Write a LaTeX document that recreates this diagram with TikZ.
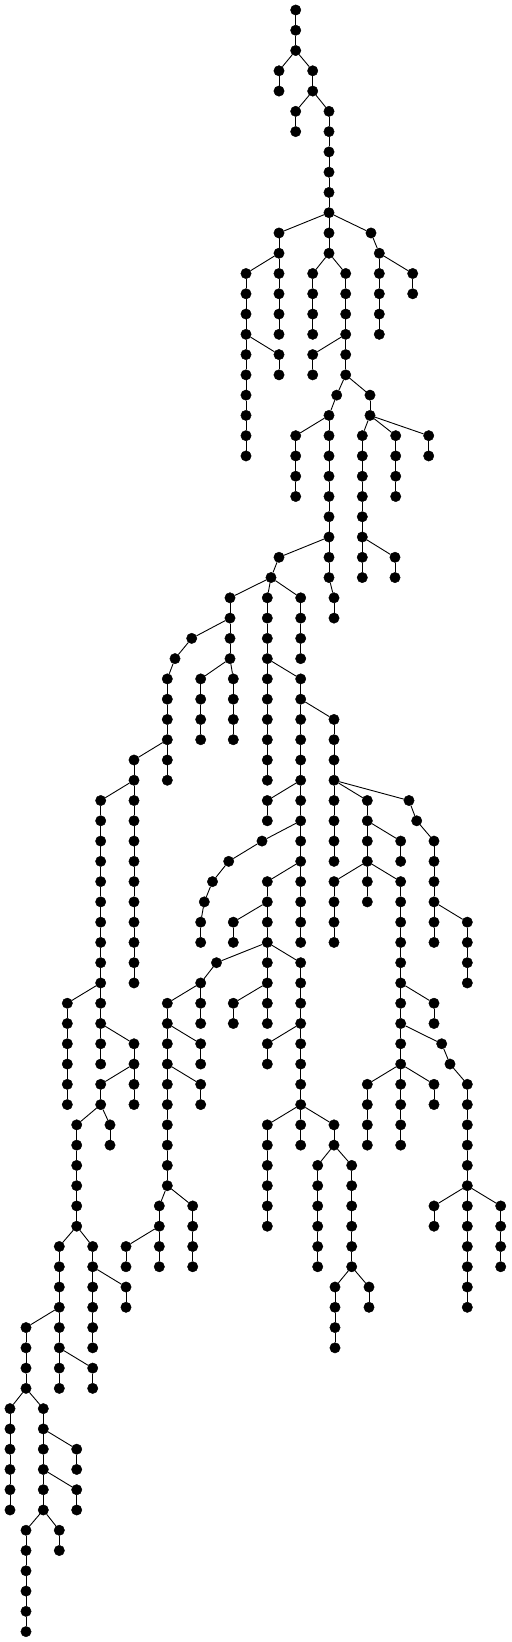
\documentclass[tikz,border=0pt]{standalone}
\usepackage{tikz}
\begin{document}
\begin{tikzpicture}[x=1pt, y=-20.27pt,
  vtx/.style={draw, circle, fill=black, inner sep=0pt, minimum size=10.4pt},
  link/.style={line width=0.9pt}]
\useasboundingbox (0,-0.4933) rectangle (511,80.513);
% vertical runs: name / x / first level / last level
\foreach \n/\x/\a/\b in {r/295.7/0/2, a/279/3/4, b/312.7/3/4, c/295.7/5/6, d/329/5/10,
  e/279/11/12, f/329/11/12, g/371/11/11, h/379.3/12/16, i/412.7/13/14, j/246/13/22,
  k/279/13/16, l/279/17/18, m/312.7/13/16, n/345.7/13/18, o/312.7/17/18, p/336.7/19/19,
  q/370/19/20, s/329/20/28, t/295.7/21/24, u/334/29/30, v/362.3/21/28, w/395.7/21/24,
  x/428.7/21/22, y/395/27/28, za/279/27/27, zb/271/28/28,
  A/230/29/32, B/267.3/29/38, C/300.7/29/32, D/300.7/33/46, E/334/35/42, F/367.3/39/44,
  G/409/39/39, H/416.7/40/40, I/434/41/46, J/467.3/45/48, K/400.7/41/42, L/334/43/46,
  M/400.7/43/56, N/434/49/50, O/441.7/51/51, P/450/52/52, Q/467.3/53/64, R/434/59/60,
  S/500.7/59/62, T/367.3/53/56, U/434/53/54, V/267.3/39/40, Wa/262/41/41, Wb/228.7/42/42,
  Wc/212.5/43/43, Wd/204.3/44/44, We/200.7/45/46, X/267.3/43/50, Y/233.3/45/46,
  Z/216.5/47/47, AA/200.7/48/50, AB/167.3/49/58, AC/200.7/51/52, AD/200.7/53/54,
  AE/159.3/59/62, AF/126/61/62, AG/192.7/59/62, AH/300.7/47/56, AI/233.3/49/50,
  AJ/267.3/51/52, AK/267.3/55/60, AL/334/55/56, AM/317.7/57/62, AN/351.7/57/62,
  AO/335/63/66, AP/369/63/64,
  BA/200.7/33/36, BB/233.3/33/36, BC/191.7/31/31, BD/175/32/32, BE/167.3/33/38,
  BF/134/37/48, BG/100.7/39/52, BH/67.3/49/54, BI/134/51/54, BJ/100.7/53/54,
  BK/110/55/56, BL/76.7/55/60, BM/59.3/61/68, BN/92.7/61/66, BO/126/63/64,
  BP/92.7/67/68, BQ/26/65/68, BR/10/69/74, BS/43.3/69/74, BT/76.7/71/72,
  BU/76.7/73/74, BV/26/75/80, BW/59.3/75/76}{
  \foreach \l in {\a,...,\b}{
    \node[vtx] (\n-\l) at (\x,\l) {};
    \ifnum\l>\a
      \pgfmathtruncatemacro\k{\l-1}
      \draw[link] (\n-\k) -- (\n-\l);
    \fi
  }
}
% branchings
\foreach \p/\c in {r-2/a-3, r-2/b-3, b-4/c-5, b-4/d-5, d-10/e-11, d-10/f-11, d-10/g-11,
  g-11/h-12, h-12/i-13, e-12/j-13, e-12/k-13, j-16/l-17, f-12/m-13, f-12/n-13,
  n-16/o-17, n-18/p-19, n-18/q-19, p-19/s-20, s-20/t-21, s-28/u-29, q-20/v-21,
  q-20/w-21, q-20/x-21, v-26/y-27, s-26/za-27, za-27/zb-28, zb-28/A-29, zb-28/B-29,
  zb-28/C-29, B-32/D-33, D-34/E-35, E-38/F-39, E-38/G-39, G-39/H-40, H-40/I-41,
  I-44/J-45, F-40/K-41, F-42/L-43, F-42/M-43, M-48/N-49, M-50/O-51, O-51/P-52,
  P-52/Q-53, Q-58/R-59, Q-58/S-59, M-52/T-53, M-52/U-53, D-38/V-39, D-40/Wa-41,
  Wa-41/Wb-42, Wb-42/Wc-43, Wc-43/Wd-44, Wd-44/We-45, D-42/X-43, X-44/Y-45, X-46/Z-47,
  Z-47/AA-48, AA-48/AB-49, AB-50/AC-51, AB-52/AD-53, AB-58/AE-59, AE-60/AF-61,
  AB-58/AG-59, X-46/AH-47, X-48/AI-49, AH-50/AJ-51, AH-54/AK-55, AH-54/AL-55,
  AL-56/AM-57, AL-56/AN-57, AN-62/AO-63, AN-62/AP-63, A-32/BA-33, A-32/BB-33,
  A-30/BC-31, BC-31/BD-32, BD-32/BE-33, BE-36/BF-37, BF-38/BG-39, BG-48/BH-49,
  BG-50/BI-51, BI-52/BJ-53, BJ-54/BK-55, BJ-54/BL-55, BL-60/BM-61, BL-60/BN-61,
  BN-62/BO-63, BM-66/BP-67, BM-64/BQ-65, BQ-68/BR-69, BQ-68/BS-69, BS-70/BT-71,
  BS-72/BU-73, BS-74/BV-75, BS-74/BW-75}
  \draw[link] (\p) -- (\c);
\end{tikzpicture}
\end{document}
